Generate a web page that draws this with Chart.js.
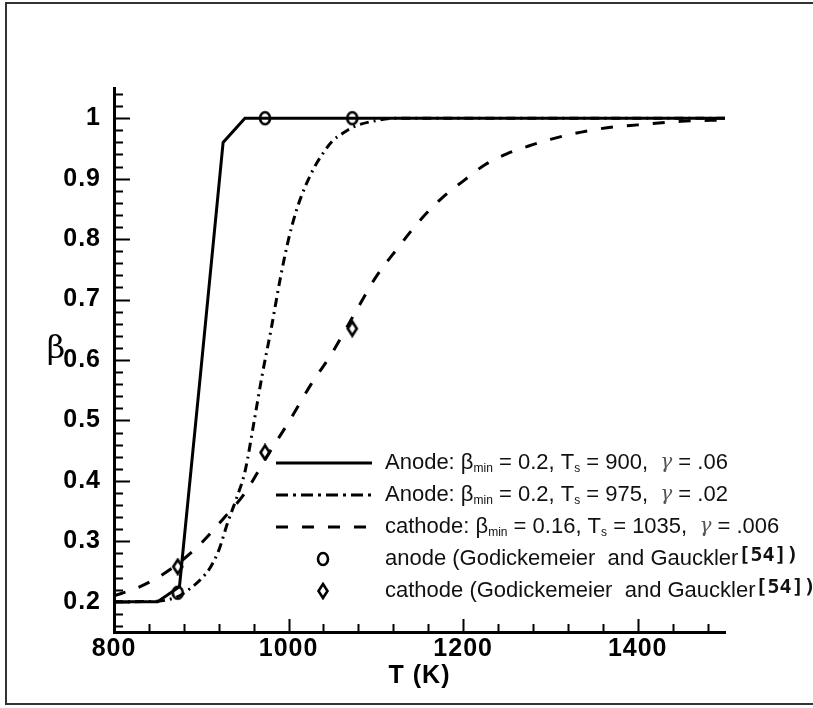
<!DOCTYPE html>
<html>
<head>
<meta charset="utf-8">
<title>beta vs T</title>
<script src="https://cdn.jsdelivr.net/npm/chart.js@4.4.1/dist/chart.umd.min.js"></script>
<style>
    html, body { margin: 0; padding: 0; background: #fff; }
    #wrap { position: relative; width: 813px; height: 708px; overflow: hidden; }
    #frame { position: absolute; left: 5px; top: 2px; width: 830px; height: 703px; border: 2px solid #333; box-sizing: border-box; }
    #chart { position: absolute; left: 0; top: 0; }
</style>
</head>
<body>
<div id="wrap">
    <div id="frame"></div>
    <canvas id="chart" width="813" height="708"></canvas>
</div>
<script>
// curve data (T in K, beta)
const solidT    = [800, 850, 875, 900, 925, 950, 1500];
const solidBeta = [0.20, 0.20, 0.225, 0.59, 0.96, 1.00, 1.00];

const dashDotT    = [800, 850, 875, 890, 900, 910, 920, 930, 940, 950, 960, 970, 980, 990, 1000, 1010, 1020, 1030, 1040, 1050, 1062, 1075, 1100, 1125, 1500];
const dashDotBeta = [0.200, 0.201, 0.21, 0.225, 0.238, 0.256, 0.285, 0.33, 0.37, 0.415, 0.494, 0.577, 0.651, 0.731, 0.80, 0.852, 0.89, 0.92, 0.943, 0.962, 0.975, 0.986, 0.996, 1.0, 1.0];

const dashedT    = [800, 825, 850, 875, 900, 925, 950, 975, 1000, 1025, 1050, 1075, 1100, 1125, 1150, 1175, 1200, 1225, 1250, 1275, 1300, 1325, 1350, 1375, 1400, 1450, 1500];
const dashedBeta = [0.21, 0.222, 0.24, 0.265, 0.297, 0.337, 0.38, 0.44, 0.497, 0.558, 0.612, 0.675, 0.737, 0.785, 0.83, 0.867, 0.896, 0.923, 0.941, 0.954, 0.965, 0.974, 0.981, 0.986, 0.989, 0.995, 0.997];

// experimental points
const anodeT      = [873, 973, 1073];
const anodeBeta   = [0.215, 1.0, 1.0];
const cathodeT    = [873, 973, 1073];
const cathodeBeta = [0.258, 0.447, 0.652];

// axes
const xTicks = [800, 1000, 1200, 1400];
const yTicks = [0.2, 0.3, 0.4, 0.5, 0.6, 0.7, 0.8, 0.9, 1.0];
const xMinorStep = 40;
const yMinorStep = 0.02;

const DASH_DOT = [9, 5, 2, 5];
const DASHED = [12, 14];

function toPoints(xs, ys) {
    return xs.map((x, i) => ({ x: x, y: ys[i] }));
}

// small canvases used as point styles
function makeMarker(kind) {
    const c = document.createElement('canvas');
    c.width = 16;
    c.height = 18;
    const g = c.getContext('2d');
    g.strokeStyle = '#000';
    g.lineWidth = 2.6;
    g.beginPath();
    if (kind === 'circle') {
        g.ellipse(8, 9, 5, 6, 0, 0, Math.PI * 2);
    } else {
        g.moveTo(8, 2);
        g.lineTo(12.5, 9);
        g.lineTo(8, 16);
        g.lineTo(3.5, 9);
        g.closePath();
    }
    g.stroke();
    return c;
}
const circleMark = makeMarker('circle');
const diamondMark = makeMarker('diamond');

// a little letter spacing for the axis text
const spacing = {
    id: 'spacing',
    beforeDraw(chart) { chart.ctx.letterSpacing = '1px'; }
};

// ticks drawn inward, major + minor
const inwardTicks = {
    id: 'inwardTicks',
    afterDatasetsDraw(chart) {
        const ctx = chart.ctx;
        const xs = chart.scales.x;
        const ys = chart.scales.y;
        const area = chart.chartArea;
        ctx.save();
        ctx.strokeStyle = '#000';
        ctx.lineWidth = 2;
        ctx.beginPath();
        for (let v = xs.min; v <= xs.max + 0.001; v += xMinorStep) {
            const px = Math.round(xs.getPixelForValue(v)) + 0.5;
            const major = xTicks.includes(Math.round(v));
            ctx.moveTo(px, area.bottom);
            ctx.lineTo(px, area.bottom - (major ? 13 : 8));
        }
        for (let v = 0.16; v <= 1.041; v += yMinorStep) {
            const py = Math.round(ys.getPixelForValue(v)) + 0.5;
            const major = yTicks.some(t => Math.abs(t - v) < 0.001);
            ctx.moveTo(area.left, py);
            ctx.lineTo(area.left + (major ? 16 : 9), py);
        }
        ctx.stroke();
        ctx.restore();
    }
};

// text made of runs (for subscripts)
function drawRuns(ctx, x, y, runs) {
    runs.forEach(r => {
        ctx.font = r.font;
        ctx.fillStyle = r.color || '#111';
        ctx.fillText(r.text, x, y + (r.dy || 0));
        x += ctx.measureText(r.text).width;
    });
}

const legendPlugin = {
    id: 'insideLegend',
    afterDraw(chart) {
        const ctx = chart.ctx;
        const F = '22px "Liberation Sans", Arial, sans-serif';
        const S = '12px "Liberation Sans", Arial, sans-serif';
        const G = 'italic 20px "DejaVu Serif", serif';
        const R = 'bold 20px "DejaVu Sans Mono", monospace';
        const lineX0 = 276, lineX1 = 372, textX = 385;
        const rows = [463, 495, 527, 559, 591];

        ctx.save();
        ctx.letterSpacing = '0px';
        ctx.textBaseline = 'middle';
        ctx.strokeStyle = '#000';
        ctx.lineWidth = 3;
        const styles = [[], [12, 5, 3, 5], DASHED];
        styles.forEach((d, i) => {
            ctx.setLineDash(d);
            ctx.beginPath();
            ctx.moveTo(lineX0, rows[i]);
            ctx.lineTo(lineX1, rows[i]);
            ctx.stroke();
        });
        ctx.setLineDash([]);
        ctx.drawImage(circleMark, 323 - 8, rows[3] - 9);
        ctx.drawImage(diamondMark, 323 - 8, rows[4] - 9);

        const curveRow = (who, bmin, ts, g) => [
            { text: who + ': \u03b2', font: F },
            { text: 'min', font: S, dy: 6 },
            { text: ' = ' + bmin + ', T', font: F },
            { text: 's', font: S, dy: 6 },
            { text: ' = ' + ts + ',  ', font: F },
            { text: '\u03b3', font: G, color: '#555' },
            { text: ' = ' + g, font: F }
        ];
        drawRuns(ctx, textX, rows[0], curveRow('Anode', '0.2', '900', '.06'));
        drawRuns(ctx, textX, rows[1], curveRow('Anode', '0.2', '975', '.02'));
        drawRuns(ctx, textX, rows[2], curveRow('cathode', '0.16', '1035', '.006'));
        drawRuns(ctx, textX, rows[3], [
            { text: 'anode (Godickemeier  and Gauckler', font: F },
            { text: '[54])', font: R, dy: -3 }
        ]);
        drawRuns(ctx, textX, rows[4], [
            { text: 'cathode (Godickemeier  and Gauckler', font: F },
            { text: '[54])', font: R, dy: -3 }
        ]);

        // y axis title, upright
        ctx.font = '32px "DejaVu Serif", serif';
        ctx.fillStyle = '#000';
        ctx.textAlign = 'center';
        ctx.textBaseline = 'alphabetic';
        ctx.fillText('\u03b2', 56, 358);
        ctx.restore();
    }
};

const lineBase = {
    borderColor: '#000',
    borderWidth: 3,
    pointRadius: 0,
    fill: false
};

const axisFont = { family: '"Liberation Sans", Arial, sans-serif', size: 25, weight: 'bold' };

new Chart(document.getElementById('chart'), {
    type: 'line',
    data: {
        datasets: [
            Object.assign({ label: 'Anode Ts=900', data: toPoints(solidT, solidBeta), tension: 0 }, lineBase),
            Object.assign({ label: 'Anode Ts=975', data: toPoints(dashDotT, dashDotBeta), borderDash: DASH_DOT, cubicInterpolationMode: 'monotone' }, lineBase),
            Object.assign({ label: 'cathode Ts=1035', data: toPoints(dashedT, dashedBeta), borderDash: DASHED, cubicInterpolationMode: 'monotone' }, lineBase),
            {
                label: 'anode data',
                data: toPoints(anodeT, anodeBeta),
                showLine: false,
                pointStyle: circleMark,
                pointRadius: 7
            },
            {
                label: 'cathode data',
                data: toPoints(cathodeT, cathodeBeta),
                showLine: false,
                pointStyle: diamondMark,
                pointRadius: 7
            }
        ]
    },
    options: {
        responsive: false,
        animation: false,
        events: [],
        layout: { padding: { left: 0, right: 88, top: 88, bottom: 0 } },
        plugins: {
            legend: { display: false },
            tooltip: { enabled: false }
        },
        scales: {
            x: {
                type: 'linear',
                min: 800,
                max: 1500,
                afterBuildTicks: s => { s.ticks = xTicks.map(v => ({ value: v })); },
                afterFit: s => { s.height = 76; },
                grid: { display: false, drawTicks: false },
                border: { display: true, color: '#000', width: 3 },
                ticks: {
                    color: '#000',
                    padding: 2,
                    maxRotation: 0,
                    callback: v => String(v),
                    font: axisFont
                },
                title: {
                    display: true,
                    text: 'T (K)',
                    color: '#000',
                    padding: { top: 0, bottom: 17 },
                    font: axisFont
                }
            },
            y: {
                type: 'linear',
                min: 0.15,
                max: 1.05,
                afterBuildTicks: s => { s.ticks = yTicks.map(v => ({ value: v })); },
                afterFit: s => { s.width = 114; },
                grid: { display: false, drawTicks: false },
                border: { display: true, color: '#000', width: 3 },
                ticks: {
                    color: '#000',
                    padding: 13,
                    callback: v => (v === 1 ? '1' : v.toFixed(1)),
                    font: axisFont
                }
            }
        }
    },
    plugins: [spacing, inwardTicks, legendPlugin]
});
</script>
</body>
</html>
